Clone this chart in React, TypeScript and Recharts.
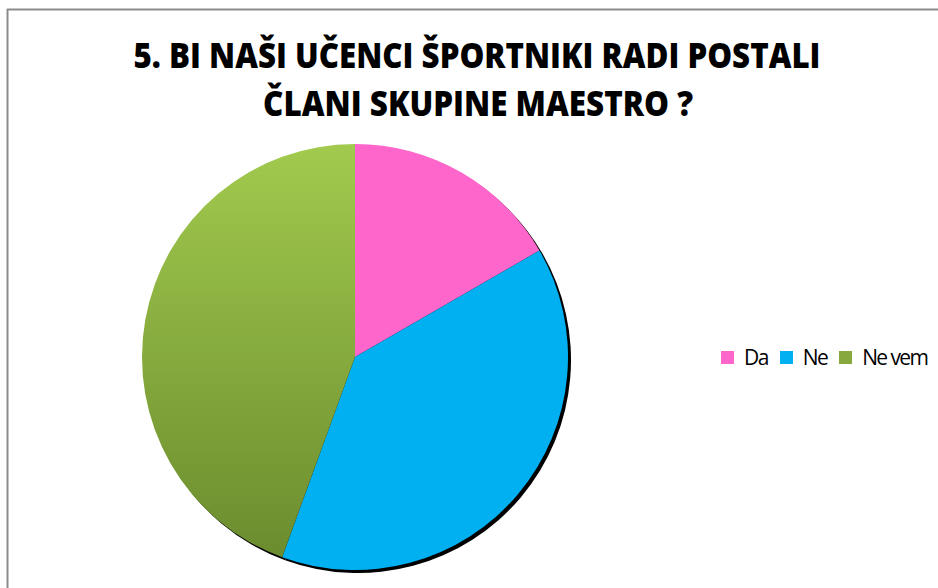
import React from "react";
import { PieChart, Pie, Cell, Legend } from "recharts";

const categories = ["Da", "Ne", "Ne vem"];
const answers = [6, 14, 16];
const colors = ["#ff66cc", "#00b0f0", "url(#greenFill)"];
const legendColors = ["#ff66cc", "#00b0f0", "#86a83c"];
const titleLines = ["5. BI NAŠI UČENCI ŠPORTNIKI RADI POSTALI", "ČLANI SKUPINE MAESTRO ?"];

const data = categories.map((name, i) => ({ name, value: answers[i] }));

function LegendRow() {
  return (
    <div style={{ display: "flex", alignItems: "center", fontFamily: "Open Sans, sans-serif", fontSize: 21, letterSpacing: -1.6, color: "#000", whiteSpace: "nowrap", lineHeight: "26px" }}>
      {categories.map((c, i) => (
        <div key={c} style={{ display: "flex", alignItems: "center", marginRight: 12 }}>
          <span style={{ display: "inline-block", width: 13, height: 13, background: legendColors[i], marginRight: 10 }} />
          <span>{c}</span>
        </div>
      ))}
    </div>
  );
}

export default function App() {
  return (
    <div style={{ position: "absolute", left: 0, top: 0, width: 938, height: 588, background: "#fff", overflow: "hidden" }}>
      <svg width={938} height={588} style={{ position: "absolute", left: 0, top: 0 }}>
        <line x1={7.5} y1={9} x2={7.5} y2={588} stroke="#8c8c8c" strokeWidth={2} />
        <line x1={7} y1={9.5} x2={938} y2={9.5} stroke="#8c8c8c" strokeWidth={2} />
        <text x={477} y={68} textAnchor="middle" textLength={687} lengthAdjust="spacingAndGlyphs" fontFamily="Open Sans, sans-serif" fontWeight={800} fontSize={35} fill="#000">
          {titleLines[0]}
        </text>
        <text x={478} y={116} textAnchor="middle" textLength={430} lengthAdjust="spacingAndGlyphs" fontFamily="Open Sans, sans-serif" fontWeight={800} fontSize={35} fill="#000">
          {titleLines[1]}
        </text>
      </svg>
      <div style={{ position: "absolute", left: 0, top: 0 }}>
        <PieChart width={938} height={588} margin={{ top: 0, right: 0, bottom: 0, left: 0 }}>
          <defs>
            <linearGradient id="greenFill" x1="0" y1="0" x2="0" y2="1">
              <stop offset="0%" stopColor="#a2ca4e" />
              <stop offset="100%" stopColor="#6b8c2e" />
            </linearGradient>
          </defs>
          <Pie
            data={data}
            dataKey="value"
            cx={358}
            cy={360}
            outerRadius={213}
            startAngle={90}
            endAngle={-270}
            stroke="none"
            isAnimationActive={false}
            legendType="none"
          >
            {data.map((d) => (
              <Cell key={d.name} fill="#000" />
            ))}
          </Pie>
          <Pie
            data={data}
            dataKey="value"
            cx={355}
            cy={357}
            outerRadius={213}
            startAngle={90}
            endAngle={-270}
            stroke="none"
            isAnimationActive={false}
          >
            {data.map((d, i) => (
              <Cell key={d.name} fill={colors[i]} />
            ))}
          </Pie>
          <Legend
            content={<LegendRow />}
            wrapperStyle={{ position: "absolute", left: 721, top: 344, width: 300 }}
          />
        </PieChart>
      </div>
    </div>
  );
}
